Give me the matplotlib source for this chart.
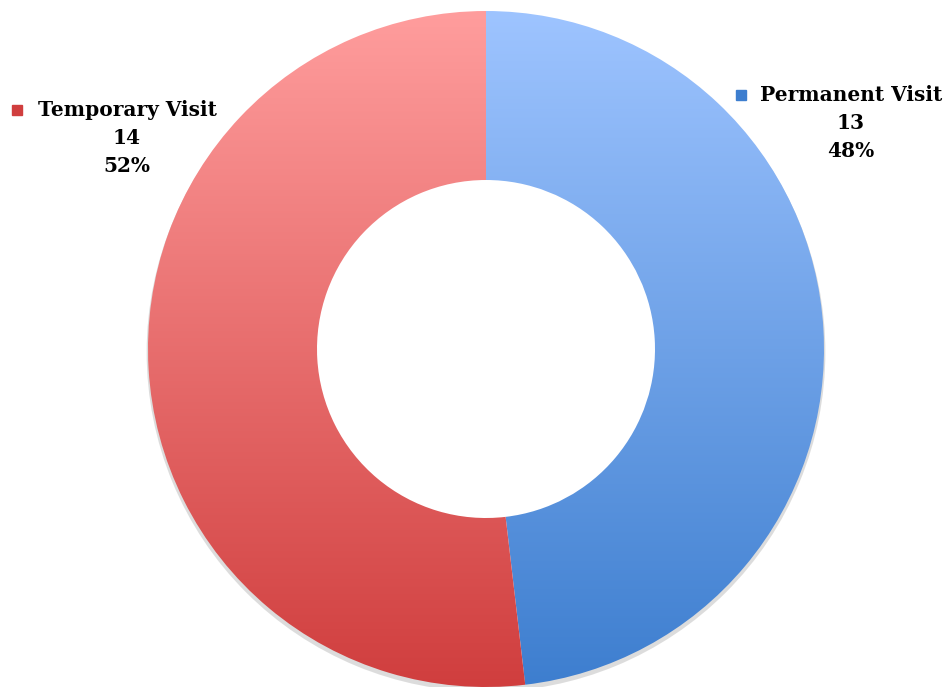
import matplotlib.pyplot as plt
import numpy as np
from matplotlib.colors import LinearSegmentedColormap
from matplotlib.patches import Rectangle, Wedge

labels = ['Permanent Visit', 'Temporary Visit']
counts = [13, 14]
top_colors = ['#9ec4ff', '#ff9d9d']
bottom_colors = ['#3d7ecf', '#d03e3e']

W, H = 948, 687
cx, cy, R = 486, 349, 338  # pixel centre and radius of the ring


def to_data(px, py):
    return (px - cx) / R, (cy - py) / R


fig = plt.figure(figsize=(W / 100, H / 100), dpi=100)
ax = fig.add_axes([0, 0, 1, 1])
ax.set_aspect('equal')
ax.axis('off')

# faint shadow under the outer edge of the ring
shadow = Wedge((0.0, -0.01), 1.004, 0, 360, width=0.06, color='#bbbbbb',
               alpha=0.5, linewidth=0, zorder=0)
ax.add_patch(shadow)

wedges, _ = ax.pie(counts, startangle=90, counterclock=False, radius=1.0,
                   wedgeprops=dict(width=0.5, linewidth=0), colors=['none', 'none'])

grad = np.linspace(0, 1, 256).reshape(-1, 1)
for w, c0, c1 in zip(wedges, top_colors, bottom_colors):
    cmap = LinearSegmentedColormap.from_list('g', [c1, c0])
    im = ax.imshow(grad, cmap=cmap, extent=(-1, 1, -1, 1), origin='lower',
                   aspect='auto', zorder=1)
    im.set_clip_path(w)
ax.set_xlim(-cx / R, (W - cx) / R)
ax.set_ylim(-(H - cy) / R, cy / R)

total = sum(counts)
label_pos = {'Permanent Visit': (851, 95, 736), 'Temporary Visit': (127, 110, 12)}
font = dict(family='DejaVu Serif', weight='heavy', fontsize=14.5, color='#000000')
for lab, n, c0, c1 in zip(labels, counts, top_colors, bottom_colors):
    px, py, mx = label_pos[lab]
    pct = round(100 * n / total)
    for k, line in enumerate([lab, str(n), f'{pct}%']):
        x, y = to_data(px, py + 28 * k)
        ax.text(x, y, line, ha='center', va='center', **font)
    mxd, myd = to_data(mx, py + 5)
    ax.add_patch(Rectangle((mxd, myd), 10 / R, 10 / R, color=c1, zorder=3))

fig.savefig('out.png', dpi=100)
